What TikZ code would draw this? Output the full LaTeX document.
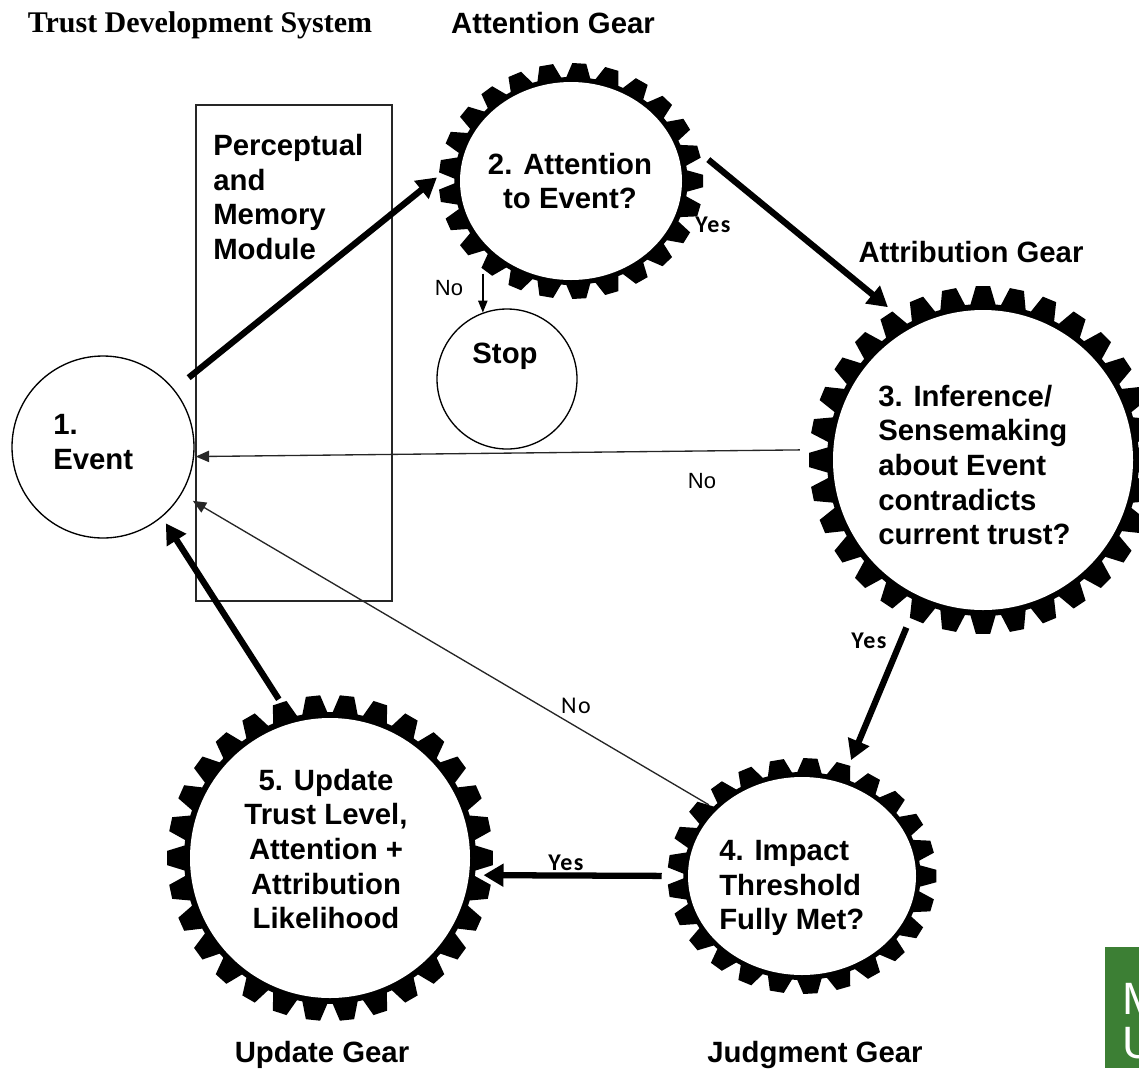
\documentclass[tikz,border=0pt]{standalone}
\usepackage{fontspec}
\setmainfont{Liberation Sans}
\newfontfamily\serifb{Liberation Serif}
\newfontfamily\calib{Carlito}[LetterSpace=6]
\usetikzlibrary{arrows.meta,shapes.geometric}
\definecolor{logogreen}{RGB}{60,127,52}

% gear teeth: x, y, xscale, root radius, tip radius, number of teeth
\newcommand\gearteeth[6]{%
  \begin{scope}[shift={(#1,#2)},xscale=#3]
    \fill[black] ({0.41*360/#6}:#4)
      \foreach \i in {1,...,#6}{
        -- ({(\i-0.41)*360/#6}:#4) -- ({(\i-0.21)*360/#6}:#5)
        -- ({(\i+0.21)*360/#6}:#5) -- ({(\i+0.41)*360/#6}:#4)
      } -- cycle;
  \end{scope}}

\tikzset{
  thickarr/.style={line width=4.7pt, -{Triangle[length=15pt,width=16.5pt]}},
  thinarr/.style={line width=1pt, black!85, -{Triangle[length=10pt,width=8.5pt]}},
  stoparr/.style={line width=1pt, -{Triangle[length=9pt,width=7pt]}},
  gearbody/.style={fill=white, inner sep=0pt, draw=none},
  gtext/.style={font=\bfseries\fontsize{22}{26}\selectfont, inner sep=0pt},
  labyes/.style={font=\calib\bfseries\fontsize{18}{20}\selectfont, inner sep=0pt},
  labno/.style={font=\calib\fontsize{18}{20}\selectfont, inner sep=0pt},
  arl/.style={font=\fontsize{16.5}{18}\selectfont, inner sep=0pt},
}

\begin{document}
\begin{tikzpicture}[x=0.75pt,y=-0.75pt]
\useasboundingbox (0,0) rectangle (1139,1068);

% module box and plain circles
\node[draw=black!85, line width=1.4pt, minimum width=147pt, minimum height=372pt, inner sep=0pt] (mod) at (294,353) {};
\node[circle, draw, line width=1pt, fill=white, minimum size=136.5pt, inner sep=0pt] (ev) at (103,447) {};
\node[circle, draw, line width=1pt, minimum size=105pt, inner sep=0pt] (stop) at (507,379) {};

% gears
\gearteeth{571}{181}{1.121}{104}{118}{25}
\node[ellipse, gearbody, minimum width=166.5pt, minimum height=148.5pt] (g2) at (571,181) {};
\gearteeth{983}{460}{1}{156}{174}{32}
\node[circle, gearbody, minimum size=225pt] (g3) at (983,460) {};
\gearteeth{802}{876}{1.14}{104}{118}{25}
\node[ellipse, gearbody, minimum width=171pt, minimum height=148.5pt] (g4) at (802,876) {};
\gearteeth{330}{858}{1}{146}{163}{30}
\node[circle, gearbody, minimum size=210pt] (g5) at (330,858) {};

% texts
\node[font=\serifb\bfseries\fontsize{22.5}{24}\selectfont, inner sep=0pt] (title) at (200,25) {Trust Development System};
\node[gtext] (t2) at (553,23) {Attention Gear};
\node[gtext] (t3) at (971,252) {Attribution Gear};
\node[gtext] (t5) at (322,1055) {Update Gear};
\node[gtext] (t4) at (815,1055) {Judgment Gear};

\node[gtext, align=left, anchor=west] (modt) at (213,197) {Perceptual\\and\\Memory\\Module};
\node[gtext, align=left, anchor=west] (evt) at (53,442) {1.\\Event};
\node[gtext] (stopt) at (505,356) {Stop};
\node[gtext, align=center] (g2t) at (570,181) {2. Attention\\to Event?};
\node[gtext, align=left, anchor=west] (g3t) at (878,465) {3. Inference/\\Sensemaking\\about Event\\contradicts\\current trust?};
\node[gtext, align=left, anchor=west] (g4t) at (719,888) {4. Impact\\Threshold\\Fully Met?};
\node[gtext, align=center] (g5t) at (326,849) {5. Update\\Trust Level,\\Attention +\\Attribution\\Likelihood};

% connectors
\draw[thickarr, shorten <=13.9pt, shorten >=25.4pt] (ev.39.1) -- (g2.167.3);
\draw[thickarr, shorten <=52pt, shorten >=23.8pt] (g2.38.1) -- (g3.118.5);
\draw[thinarr, shorten <=24.9pt, shorten >=1.2pt] (g3.176.8) -- (ev.-6.3);
\draw[thickarr, shorten <=25.5pt, shorten >=18.5pt] (g3.245.9) -- (g4.67.8);
\draw[thinarr, shorten <=7.1pt, shorten >=9.8pt] (g4.142.8) -- (ev.-31.3);
\draw[thickarr, shorten <=19.5pt, shorten >=10.7pt] (g4.180.5) -- (g5.-7.8);
\draw[thickarr, shorten <=20.7pt, shorten >=5.4pt] (g5.105.8) -- (ev.-50.3);
\draw[stoparr] (stop.110) ++(0,-39) -- (stop.110);

% connector labels
\node[labyes] (yes2) at (713,225) {Yes};
\node[arl] (no3) at (702,481) {No};
\node[labyes] (yes3) at (869,641) {Yes};
\node[labno] (no4) at (576,706) {No};
\node[labyes] (yes4) at (566,863) {Yes};
\node[arl] (nostop) at (449,288) {No};

% cropped logo
\begin{scope}
  \clip (1105,947) rectangle (1139,1068);
  \fill[logogreen] (1105,947) rectangle (1139,1068);
  \node[white, font=\fontsize{34}{36}\selectfont, anchor=west, inner sep=0pt] (lm) at (1122,999) {M};
  \node[white, font=\fontsize{34}{36}\selectfont, anchor=west, inner sep=0pt] (lu) at (1122,1043) {U};
\end{scope}
\end{tikzpicture}
\end{document}
